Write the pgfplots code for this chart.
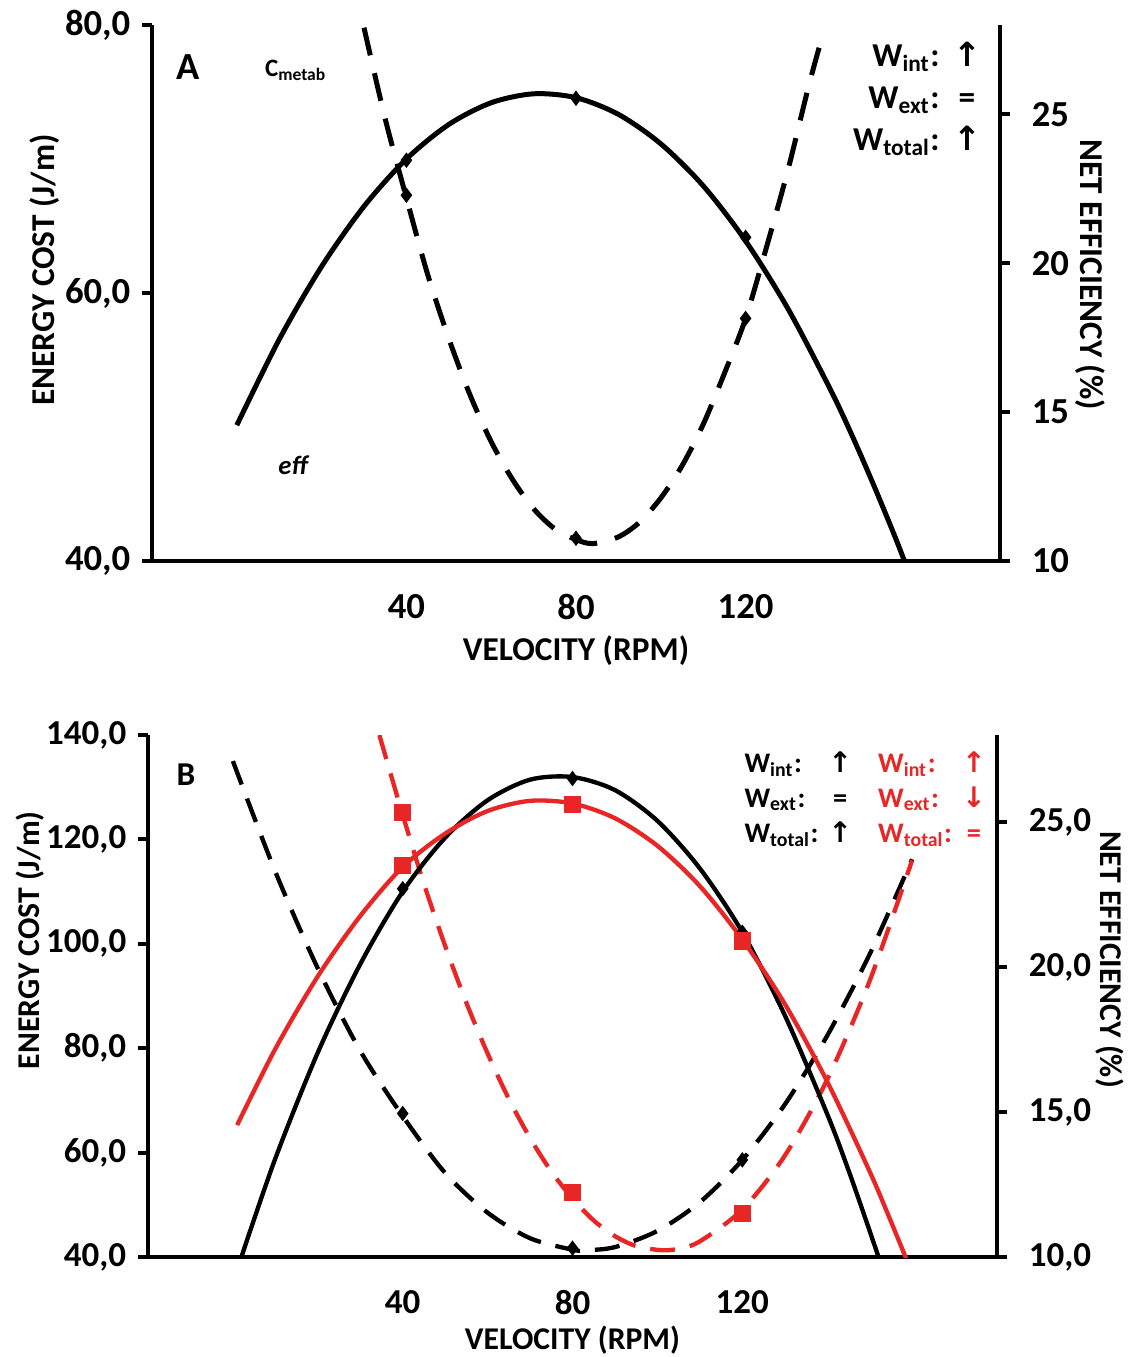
\documentclass[border=0pt]{standalone}
\usepackage{fontspec}
\setmainfont{Carlito}
\newfontfamily\arrowfont{DejaVu Sans}
\usepackage{pgfplots}
\pgfplotsset{compat=1.18}
\definecolor{myred}{RGB}{232,38,38}

\pgfplotsset{
  panel/.style={
    scale only axis, anchor=south west,
    xmin=-20, xmax=180, xtick={40,80,120}, xticklabels={40,80,120},
    axis line style={line width=1.2pt},
    tick style={line width=1.2pt, black},
    tick align=outside, major tick length=3pt,
    xtick style={draw=none},
    xticklabel style={yshift=-3.5pt},
    ticklabel style={font=\bfseries\fontsize{11}{12}\selectfont},
    label style={font=\bfseries\fontsize{10}{12}\selectfont},
  },
  effline/.style={black, line width=1.5pt, smooth},
  costline/.style={black, line width=1.5pt, smooth, dash pattern=on 8.5pt off 5.5pt},
}

\begin{document}
\begin{tikzpicture}
\path[use as bounding box] (0,0) rectangle (338.4pt,-407.1pt);

% ---------- panel A: energy cost (left)
\begin{axis}[panel, at={(45.6pt,-168.3pt)}, width=254.4pt, height=160.8pt,
  axis x line*=bottom, axis y line*=left,
  ymin=40, ymax=80, ytick={40,60,80}, yticklabels={{40,0},{60,0},{80,0}},
  xlabel={VELOCITY (RPM)},
  xlabel style={at={(axis description cs:0.5,-0.168)}, anchor=center},
  ylabel={ENERGY COST (J/m)},
  ylabel style={at={(axis description cs:-0.126,0.543)}, anchor=center}]
\addplot[costline] coordinates {
 (30,79.8) (35,73.0) (40,67.1) (45,61.4) (50,56.6) (55,52.4) (60,48.9)
 (65,46.1) (70,43.9) (75,42.4) (80,41.6) (84,41.3) (90,41.8) (95,42.9)
 (100,44.7) (105,47.1) (110,50.2) (115,54.0) (120,58.1) (125,63.5)
 (130,69.2) (135,75.6) (138.5,79.6)};
\addplot[only marks, mark=diamond*, mark size=2pt, black] coordinates {
 (40,67.3) (80,41.7) (120,58.1)};
\end{axis}
% ---------- panel A: efficiency (right)
\begin{axis}[panel, at={(45.6pt,-168.3pt)}, width=254.4pt, height=160.8pt,
  axis x line=none, axis y line*=right,
  ymin=10, ymax=28, ytick={10,15,20,25}, yticklabels={10,15,20,25},
  yticklabel style={xshift=3pt},
  ylabel={NET EFFICIENCY (\%)},
  ylabel style={at={(axis description cs:1.106,0.534)}, anchor=center, rotate=180}]
\addplot[effline] coordinates {
 (0,14.56) (10,17.44) (20,19.89) (30,21.91) (40,23.5) (50,24.66) (60,25.39)
 (70,25.69) (80,25.56) (90,25.0) (100,24.01) (110,22.6) (120,20.75)
 (130,18.47) (140,15.76) (145,14.25) (150,12.62) (155,10.9) (158,9.8)};
\addplot[only marks, mark=diamond*, mark size=2pt, black] coordinates {
 (40,23.46) (80,25.54) (120,20.87)};
\end{axis}

% ---------- panel B: energy cost (left)
\begin{axis}[panel, at={(44.4pt,-377.1pt)}, width=254.7pt, height=156.6pt,
  axis x line*=bottom, axis y line*=left,
  ticklabel style={font=\bfseries\fontsize{10.5}{12}\selectfont},
  label style={font=\bfseries\fontsize{9.5}{12}\selectfont},
  ymin=40, ymax=140, ytick={40,60,80,100,120,140},
  yticklabels={{40,0},{60,0},{80,0},{100,0},{120,0},{140,0}},
  xlabel={VELOCITY (RPM)},
  xlabel style={at={(axis description cs:0.5,-0.159)}, anchor=center},
  ylabel={ENERGY COST (J/m)},
  ylabel style={at={(axis description cs:-0.139,0.607)}, anchor=center}]
\addplot[costline, line width=1.3pt, dash pattern=on 7.5pt off 4.5pt] coordinates {
 (0,135.0) (10,113.8) (20,95.3) (30,79.5) (40,67.0) (50,56.1) (60,48.5)
 (70,43.6) (80,41.4) (83,41.3) (90,41.9) (100,45.0) (110,50.5) (120,58.6)
 (130,69.2) (140,82.4) (150,98.0) (160,116.2)};
\addplot[costline, myred, line width=1.3pt, dash pattern=on 7.5pt off 4.5pt] coordinates {
 (34.5,140) (40,124.7) (45,111.5) (50,99.6) (55,88.7) (60,79.0) (65,70.3)
 (70,62.8) (75,56.4) (80,51.2) (85,47.0) (90,44.0) (95,42.1) (101,41.3)
 (105,41.6) (110,43.0) (120,49.1) (130,59.4) (140,74.0) (150,92.9) (160,116.0)};
\addplot[only marks, mark=diamond*, mark size=2pt, black] coordinates {
 (40,67.5) (80,41.7) (120,58.6)};
\addplot[only marks, mark=square*, mark size=2.4pt, myred] coordinates {
 (40,125.2) (80,52.3) (120,48.4)};
\end{axis}
% ---------- panel B: efficiency (right)
\begin{axis}[panel, at={(44.4pt,-377.1pt)}, width=254.7pt, height=156.6pt,
  axis x line=none, axis y line*=right,
  ticklabel style={font=\bfseries\fontsize{10.5}{12}\selectfont},
  label style={font=\bfseries\fontsize{9.5}{12}\selectfont},
  ymin=10, ymax=28, ytick={10,15,20,25}, yticklabels={{10,0},{15,0},{20,0},{25,0}},
  yticklabel style={xshift=3pt},
  ylabel={NET EFFICIENCY (\%)},
  ylabel style={at={(axis description cs:1.133,0.57)}, anchor=center, rotate=180}]
\addplot[effline, line width=1.3pt] coordinates {
 (2,10.0) (10,13.4) (20,17.05) (30,20.1) (40,22.6) (50,24.46) (60,25.75)
 (70,26.46) (80,26.55) (90,26.1) (100,25.04) (110,23.4) (120,21.2)
 (130,18.34) (140,14.93) (145,13.0) (150,10.9) (153,9.6)};
\addplot[effline, myred, line width=1.3pt] coordinates {
 (1,14.55) (10,17.18) (20,19.68) (30,21.76) (40,23.45) (50,24.6) (60,25.38)
 (70,25.73) (80,25.64) (90,25.13) (100,24.18) (110,22.79) (120,20.95)
 (130,18.73) (140,16.05) (150,12.95) (155,11.23) (159,9.8)};
\addplot[only marks, mark=diamond*, mark size=2pt, black] coordinates {
 (40,22.7) (80,26.5) (120,21.2)};
\addplot[only marks, mark=square*, mark size=2.4pt, myred] coordinates {
 (40,23.5) (80,25.6) (120,20.9)};
\end{axis}

% ---------- annotations
\node[font=\bfseries\fontsize{11.5}{12}\selectfont] at (56.4pt,-20.1pt) {A};
\node[font=\bfseries\fontsize{7.5}{8}\selectfont] at (88.8pt,-21pt) {C\textsubscript{metab}};
\node[font=\bfseries\itshape\fontsize{8}{9}\selectfont] at (87.9pt,-139.5pt) {eff};
\node[font=\bfseries\fontsize{10}{12.6}\selectfont] at (275.1pt,-30pt) {%
  \begin{tabular}{@{}r@{\hspace{4pt}}c@{}}
  W\textsubscript{int}: & {\arrowfont\bfseries ↑}\\
  W\textsubscript{ext}: & =\\
  W\textsubscript{total}: & {\arrowfont\bfseries ↑}
  \end{tabular}};
\node[font=\bfseries\fontsize{10}{12}\selectfont] at (55.8pt,-232.5pt) {B};
\node[font=\bfseries\fontsize{8.5}{10.5}\selectfont] at (239.5pt,-240pt) {%
  \begin{tabular}{@{}l@{\hspace{3pt}}c@{}}
  W\textsubscript{int}: & {\arrowfont\bfseries ↑}\\
  W\textsubscript{ext}: & =\\
  W\textsubscript{total}: & {\arrowfont\bfseries ↑}
  \end{tabular}};
\node[font=\bfseries\fontsize{8.5}{10.5}\selectfont, text=myred] at (279.6pt,-240pt) {%
  \begin{tabular}{@{}l@{\hspace{3pt}}c@{}}
  W\textsubscript{int}: & {\arrowfont\bfseries ↑}\\
  W\textsubscript{ext}: & {\arrowfont\bfseries ↓}\\
  W\textsubscript{total}: & =
  \end{tabular}};
\end{tikzpicture}
\end{document}
